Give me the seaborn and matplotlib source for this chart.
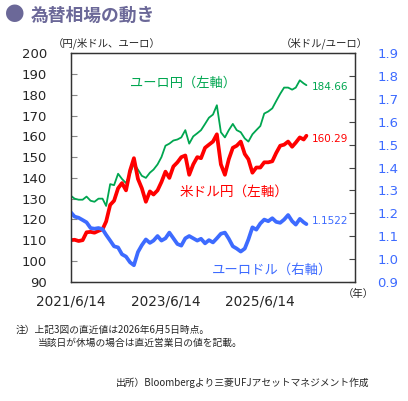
import pandas as pd
import matplotlib.pyplot as plt
import seaborn as sns

# === データ (月次, 2021/6 - 2026/6) ===
usdjpy = [
    110.0, 110.2, 109.6, 110.0, 113.8, 114.0, 113.6, 114.5, 115.2, 119.0, 127.0, 129.0,
    135.0, 137.5, 134.0, 143.5, 149.5, 139.5, 135.0, 128.5, 133.5, 132.0, 134.0, 138.0,
    143.0, 140.0, 145.5, 147.5, 150.0, 150.8, 141.5, 146.5, 150.0, 149.5, 154.5, 156.0,
    157.5, 161.0, 146.5, 141.5, 149.0, 154.5, 155.5, 157.5, 151.5, 149.0, 142.5, 145.0,
    145.0, 147.5, 147.5, 148.0, 152.0, 155.5, 156.0, 157.5, 155.0, 157.0, 159.5, 158.5,
    160.29,
]
eurjpy = [
    131.5, 130.0, 129.5, 129.5, 131.0, 129.0, 128.5, 130.0, 130.0, 126.5, 137.0, 136.5,
    142.0, 139.5, 137.5, 142.0, 147.0, 144.0, 141.0, 140.0, 142.5, 144.0, 146.5, 150.0,
    155.5, 156.5, 158.0, 158.5, 159.5, 163.0, 156.5, 160.0, 161.5, 163.0, 166.0, 169.0,
    170.5, 175.0, 162.0, 159.5, 163.0, 166.0, 163.0, 162.0, 159.0, 157.5, 161.0, 163.0,
    165.0, 171.0, 172.0, 173.5, 177.0, 180.5, 183.5, 183.5, 182.5, 183.5, 187.0, 185.5,
    184.66,
]
eurusd = [
    1.205, 1.185, 1.180, 1.170, 1.160, 1.135, 1.132, 1.135, 1.130, 1.105, 1.080, 1.055,
    1.050, 1.020, 1.010, 0.985, 0.972, 1.030, 1.060, 1.085, 1.070, 1.080, 1.100, 1.080,
    1.090, 1.115, 1.090, 1.065, 1.058, 1.090, 1.100, 1.090, 1.080, 1.088, 1.068, 1.082,
    1.072, 1.090, 1.110, 1.115, 1.088, 1.055, 1.045, 1.032, 1.045, 1.085, 1.138, 1.128,
    1.155, 1.172, 1.165, 1.178, 1.162, 1.158, 1.172, 1.192, 1.165, 1.150, 1.175, 1.160,
    1.1522,
]
dates = list(pd.date_range("2021-06-01", "2026-06-01", freq="MS") + pd.Timedelta(days=14))
dates[0] = pd.Timestamp("2021-06-14")
dates[-1] = pd.Timestamp("2026-06-05")

df = pd.DataFrame({"date": dates, "usdjpy": usdjpy, "eurjpy": eurjpy, "eurusd": eurusd})

x_ticks = pd.to_datetime(["2021-06-14", "2022-06-14", "2023-06-14", "2024-06-14",
                          "2025-06-14", "2026-06-14", "2027-06-14"])
x_labels = ["2021/6/14", "", "2023/6/14", "", "2025/6/14", "", ""]
left_ticks = list(range(90, 201, 10))
right_ticks = [0.9, 1.0, 1.1, 1.2, 1.3, 1.4, 1.5, 1.6, 1.7, 1.8, 1.9]

GREEN = "#00A650"
RED = "#FF0000"
BLUE = "#3D6BFF"
TITLE = "#6B6898"
NUM = "DejaVu Sans"

sns.set_style("white")
plt.rcParams["font.family"] = ["Noto Sans CJK JP", "DejaVu Sans"]

fig = plt.figure(figsize=(4.08, 4.01), dpi=100)
ax = fig.add_axes([0.173, 0.2975, 0.697, 0.5695])
ax2 = ax.twinx()

sns.lineplot(data=df, x="date", y="eurjpy", ax=ax, color=GREEN, lw=1.3)
sns.lineplot(data=df, x="date", y="usdjpy", ax=ax, color=RED, lw=2.7)
sns.lineplot(data=df, x="date", y="eurusd", ax=ax2, color=BLUE, lw=2.7)

ax.set_xlim(x_ticks[0], x_ticks[-1])
ax.set_ylim(90, 200)
ax2.set_ylim(0.9, 1.9)
ax.set_xticks(x_ticks)
ax.set_xticklabels(x_labels, fontfamily=NUM)
ax.set_yticks(left_ticks)
ax.set_yticklabels([str(v) for v in left_ticks], fontfamily=NUM)
ax2.set_yticks(right_ticks)
ax2.set_yticklabels([f"{v:.1f}" for v in right_ticks], fontfamily=NUM)
ax.set_xlabel("")
ax.set_ylabel("")
ax2.set_ylabel("")

ax.tick_params(axis="y", direction="in", length=4, color="#888888", labelsize=9.5, pad=17)
ax.tick_params(axis="x", direction="in", length=4, color="#888888", labelsize=9.8, pad=9)
ax2.tick_params(axis="y", direction="in", length=4, color="#444444", labelsize=9.5,
                labelcolor=BLUE, pad=16)
for a in (ax, ax2):
    for s in a.spines.values():
        s.set_color("#333333")
        s.set_linewidth(0.9)

# 最新値ラベル
last = df.iloc[-1]
ax.annotate(f"{last['eurjpy']:.2f}", (last["date"], last["eurjpy"]), xytext=(4, -1),
            textcoords="offset points", color=GREEN, fontsize=7.5, va="center",
            fontfamily=NUM)
ax.annotate(f"{last['usdjpy']:.2f}", (last["date"], last["usdjpy"]), xytext=(4, -2),
            textcoords="offset points", color=RED, fontsize=7.5, va="center",
            fontfamily=NUM)
ax2.annotate(f"{last['eurusd']:.4f}", (last["date"], last["eurusd"]), xytext=(4, 2),
             textcoords="offset points", color=BLUE, fontsize=7.5, va="center",
             fontfamily=NUM)

def fx(px):
    return px / 408

def fy(py):
    return 1 - py / 401

fig.text(fx(130), fy(83), "ユーロ円（左軸）", color=GREEN, fontsize=9.5, va="center")
fig.text(fx(180), fy(192), "米ドル円（左軸）", color=RED, fontsize=9.8, va="center")
fig.text(fx(212), fy(270), "ユーロドル（右軸）", color=BLUE, fontsize=9.6, va="center")

fig.text(fx(5), fy(16), "●", color=TITLE, fontsize=14, va="center")
fig.text(fx(31), fy(16), "為替相場の動き", color=TITLE, fontsize=12.8, fontweight="bold",
         va="center")
fig.text(fx(53), fy(43), "（円/米ドル、ユーロ）", fontsize=7.5, va="center")
fig.text(fx(281), fy(43), "（米ドル/ユーロ）", fontsize=7.5, va="center")
fig.text(fx(343), fy(294), "（年）", fontsize=7.5, va="center")

fig.text(fx(16), fy(330), "注）上記3図の直近値は2026年6月5日時点。", fontsize=7, va="center")
fig.text(fx(38), fy(343), "当該日が休場の場合は直近営業日の値を記載。", fontsize=7, va="center")
fig.text(fx(116), fy(383), "出所）Bloombergより三菱UFJアセットマネジメント作成", fontsize=7,
         va="center")

fig.savefig("out.png", dpi=100)
plt.close()
